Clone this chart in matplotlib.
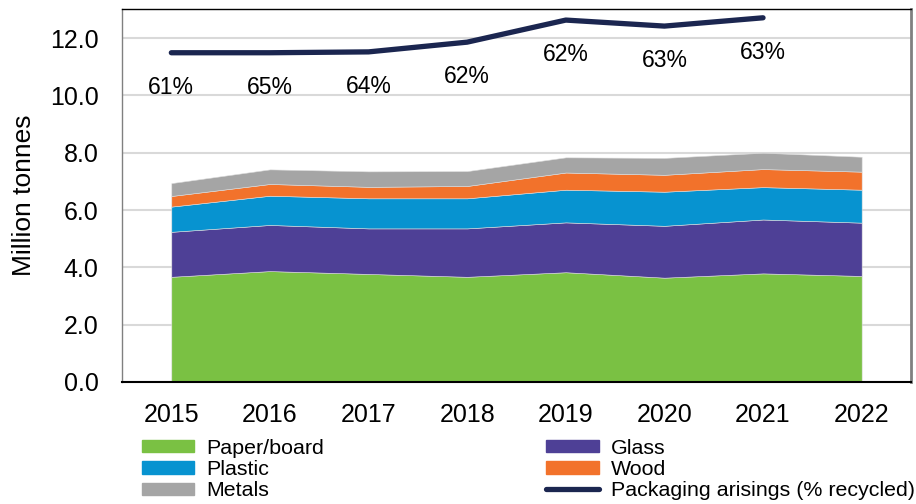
import numpy as np
import matplotlib
matplotlib.use('Agg')
import matplotlib.pyplot as plt
import matplotlib.patches as mpatches
import matplotlib.lines as mlines

plt.rcParams['font.family'] = ['Liberation Sans', 'DejaVu Sans']

# Data (million tonnes)
years = [2015, 2016, 2017, 2018, 2019, 2020, 2021, 2022]
paper = [3.67, 3.87, 3.77, 3.67, 3.83, 3.64, 3.79, 3.70]
glass = [1.57, 1.61, 1.59, 1.69, 1.74, 1.81, 1.88, 1.86]
plastic = [0.88, 1.02, 1.05, 1.05, 1.14, 1.19, 1.13, 1.15]
wood = [0.37, 0.41, 0.40, 0.43, 0.60, 0.59, 0.63, 0.63]
metals = [0.45, 0.51, 0.54, 0.52, 0.53, 0.59, 0.57, 0.52]

line_years = [2015, 2016, 2017, 2018, 2019, 2020, 2021]
arisings = [11.49, 11.49, 11.52, 11.86, 12.63, 12.42, 12.71]
recycled = ['61%', '65%', '64%', '62%', '62%', '63%', '63%']

c_paper = '#7ac143'
c_glass = '#4e4096'
c_plastic = '#0793d0'
c_wood = '#f2722b'
c_metals = '#a5a5a5'
c_line = '#1b2650'

fig = plt.figure(figsize=(9.16, 5.04), dpi=100)
ax = fig.add_axes([0.1332, 0.2421, 0.8613, 0.7391])

ax.stackplot(years, paper, glass, plastic, wood, metals,
             colors=[c_paper, c_glass, c_plastic, c_wood, c_metals],
             edgecolor='#dddddd', linewidth=0.4, zorder=2)
ax.plot(line_years, arisings, color=c_line, linewidth=3.8,
        solid_capstyle='round', zorder=3)
for x, y, s in zip(line_years, arisings, recycled):
    ax.annotate(s, (x, y), xytext=(0, -25), textcoords='offset points',
                ha='center', va='center', fontsize=16.5)

ax.set_xlim(2014.5, 2022.5)
ax.set_ylim(0, 13)
ax.set_yticks(np.arange(0, 13, 2))
ax.set_yticklabels(['%.1f' % v for v in np.arange(0, 13, 2)])
ax.set_xticks(years)
ax.tick_params(axis='both', length=0, labelsize=18)
ax.tick_params(axis='y', pad=17)
ax.tick_params(axis='x', pad=15)
ax.grid(axis='y', color='#d9d9d9', linewidth=1.5, zorder=0)
ax.set_axisbelow(True)
ax.set_ylabel('Million tonnes', fontsize=19, labelpad=10)

ax.spines['left'].set_color('#808080')
ax.spines['left'].set_linewidth(1.0)
ax.spines['right'].set_color('#808080')
ax.spines['right'].set_linewidth(2.0)
ax.spines['top'].set_color('black')
ax.spines['top'].set_linewidth(1.0)
ax.spines['bottom'].set_color('black')
ax.spines['bottom'].set_linewidth(1.5)

handles = [
    mpatches.Patch(color=c_paper, label='Paper/board'),
    mpatches.Patch(color=c_plastic, label='Plastic'),
    mpatches.Patch(color=c_metals, label='Metals'),
    mpatches.Patch(color=c_glass, label='Glass'),
    mpatches.Patch(color=c_wood, label='Wood'),
    mlines.Line2D([], [], color=c_line, linewidth=3.8, solid_capstyle='round',
                  label='Packaging arisings (% recycled)'),
]
fig.legend(handles=handles, ncol=2, loc='upper left',
           bbox_to_anchor=(0.155, 0.129), frameon=False, fontsize=15.4,
           handlelength=2.45, handleheight=0.5, handletextpad=0.55,
           labelspacing=0.1, columnspacing=10.4, borderpad=0,
           borderaxespad=0)

fig.savefig('out.png', dpi=100)
